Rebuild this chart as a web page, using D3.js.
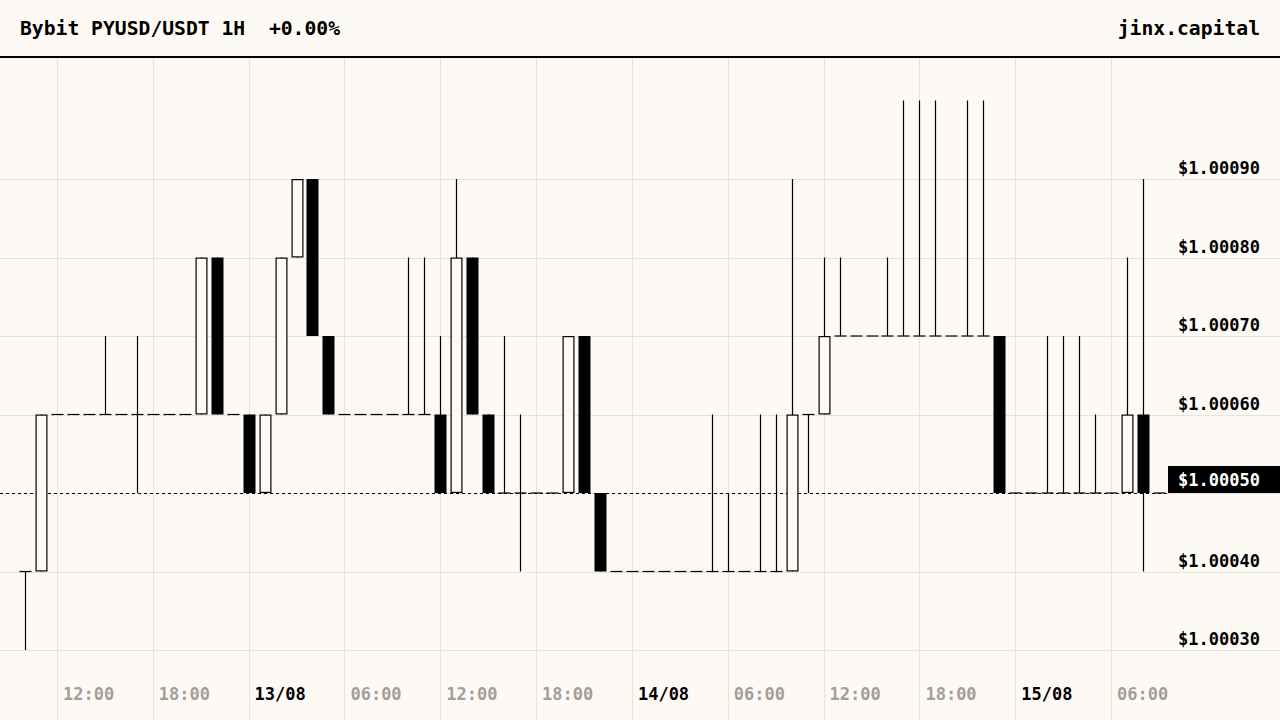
<!DOCTYPE html>
<html>
<head>
<meta charset="utf-8">
<script src="https://cdn.jsdelivr.net/npm/d3@7"></script>
<style>
  html, body { margin: 0; padding: 0; background: #fdfaf5; }
  svg { display: block; font-family: "DejaVu Sans Mono", monospace; font-weight: bold; }
</style>
</head>
<body>
<svg width="1280" height="720"></svg>
<script>
// hourly candles, first one at 12/08 10:00 utc
const startTime = "2024-08-12T10:00:00Z";
const opens  = [1.0004, 1.0004, 1.0006, 1.0006, 1.0006, 1.0006, 1.0006, 1.0006, 1.0006, 1.0006, 1.0006, 1.0006, 1.0008, 1.0006,
  1.0006, 1.0005, 1.0006, 1.0008, 1.0009, 1.0007, 1.0006, 1.0006, 1.0006, 1.0006, 1.0006, 1.0006, 1.0006, 1.0005, 1.0008, 1.0006,
  1.0005, 1.0005, 1.0005, 1.0005, 1.0005, 1.0007, 1.0005, 1.0004,
  1.0004, 1.0004, 1.0004, 1.0004, 1.0004, 1.0004, 1.0004, 1.0004, 1.0004, 1.0004, 1.0004, 1.0006, 1.0006, 1.0007, 1.0007, 1.0007,
  1.0007, 1.0007, 1.0007, 1.0007, 1.0007, 1.0007, 1.0007, 1.0007,
  1.0005, 1.0005, 1.0005, 1.0005, 1.0005, 1.0005, 1.0005, 1.0005, 1.0006, 1.0005];
const highs  = [1.0004, 1.0006, 1.0006, 1.0006, 1.0006, 1.0007, 1.0006, 1.0007, 1.0006, 1.0006, 1.0006, 1.0008, 1.0008, 1.0006,
  1.0006, 1.0006, 1.0008, 1.0009, 1.0009, 1.0007, 1.0006, 1.0006, 1.0006, 1.0006, 1.0008, 1.0008, 1.0007, 1.0009, 1.0008, 1.0006,
  1.0007, 1.0006, 1.0005, 1.0005, 1.0007, 1.0007, 1.0005, 1.0004,
  1.0004, 1.0004, 1.0004, 1.0004, 1.0004, 1.0006, 1.0005, 1.0004, 1.0006, 1.0006, 1.0009, 1.0006, 1.0008, 1.0008, 1.0007, 1.0007,
  1.0008, 1.0010, 1.0010, 1.0010, 1.0007, 1.0010, 1.0010, 1.0007,
  1.0005, 1.0005, 1.0007, 1.0007, 1.0007, 1.0006, 1.0005, 1.0008, 1.0009, 1.0005];
const lows   = [1.0003, 1.0004, 1.0006, 1.0006, 1.0006, 1.0006, 1.0006, 1.0005, 1.0006, 1.0006, 1.0006, 1.0006, 1.0006, 1.0006,
  1.0005, 1.0005, 1.0006, 1.0008, 1.0007, 1.0006, 1.0006, 1.0006, 1.0006, 1.0006, 1.0006, 1.0006, 1.0005, 1.0005, 1.0006, 1.0005,
  1.0005, 1.0004, 1.0005, 1.0005, 1.0005, 1.0005, 1.0004, 1.0004,
  1.0004, 1.0004, 1.0004, 1.0004, 1.0004, 1.0004, 1.0004, 1.0004, 1.0004, 1.0004, 1.0004, 1.0005, 1.0006, 1.0007, 1.0007, 1.0007,
  1.0007, 1.0007, 1.0007, 1.0007, 1.0007, 1.0007, 1.0007, 1.0005,
  1.0005, 1.0005, 1.0005, 1.0005, 1.0005, 1.0005, 1.0005, 1.0005, 1.0004, 1.0005];
const closes = [1.0004, 1.0006, 1.0006, 1.0006, 1.0006, 1.0006, 1.0006, 1.0006, 1.0006, 1.0006, 1.0006, 1.0008, 1.0006, 1.0006,
  1.0005, 1.0006, 1.0008, 1.0009, 1.0007, 1.0006, 1.0006, 1.0006, 1.0006, 1.0006, 1.0006, 1.0006, 1.0005, 1.0008, 1.0006, 1.0005,
  1.0005, 1.0005, 1.0005, 1.0005, 1.0007, 1.0005, 1.0004, 1.0004,
  1.0004, 1.0004, 1.0004, 1.0004, 1.0004, 1.0004, 1.0004, 1.0004, 1.0004, 1.0004, 1.0006, 1.0006, 1.0007, 1.0007, 1.0007, 1.0007,
  1.0007, 1.0007, 1.0007, 1.0007, 1.0007, 1.0007, 1.0007, 1.0005,
  1.0005, 1.0005, 1.0005, 1.0005, 1.0005, 1.0005, 1.0005, 1.0006, 1.0005, 1.0005];

// price ticks on the right
const priceTicks = [1.0003, 1.0004, 1.0005, 1.0006, 1.0007, 1.0008, 1.0009];
const lastPrice = 1.0005;

const title = "Bybit PYUSD/USDT 1H  +0.00%";
const brand = "jinx.capital";

const bg = "#fdfaf5";
const gridColor = "#e6e2dc";

const svg = d3.select("svg");

// build candle rows
const t0 = new Date(startTime);
const candles = opens.map((o, i) => ({
  time: d3.utcHour.offset(t0, i),
  open: o,
  high: highs[i],
  low: lows[i],
  close: closes[i]
}));

// scales
const x = d3
  .scaleUtc()
  .domain([candles[0].time, candles[candles.length - 1].time])
  .range([26, 1160]);

const y = d3.scaleLinear().domain([1.0003, 1.0009]).range([650, 179]);

// grid
const grid = svg.append("g");
const timeTicks = x.ticks(d3.utcHour.every(6));

grid
  .selectAll("line.v")
  .data(timeTicks)
  .enter()
  .append("line")
  .attr("x1", (d) => Math.round(x(d)) - 0.5)
  .attr("x2", (d) => Math.round(x(d)) - 0.5)
  .attr("y1", 58)
  .attr("y2", 720)
  .attr("stroke", gridColor);

grid
  .selectAll("line.h")
  .data(priceTicks)
  .enter()
  .append("line")
  .attr("x1", 0)
  .attr("x2", 1280)
  .attr("y1", (d) => Math.round(y(d)) + 0.5)
  .attr("y2", (d) => Math.round(y(d)) + 0.5)
  .attr("stroke", gridColor);

// last price dashed line
svg
  .append("line")
  .attr("x1", 0)
  .attr("x2", 1168)
  .attr("y1", Math.round(y(lastPrice)) + 0.5)
  .attr("y2", Math.round(y(lastPrice)) + 0.5)
  .attr("stroke", "#000")
  .attr("stroke-dasharray", "3,3");

// candles
const candleGroup = svg.append("g");
const bodyW = 12;

// wicks first so bodies sit on top
candleGroup
  .selectAll("line.wick")
  .data(candles.filter((d) => d.high !== d.low))
  .enter()
  .append("line")
  .attr("x1", (d) => Math.round(x(d.time)) - 0.5)
  .attr("x2", (d) => Math.round(x(d.time)) - 0.5)
  .attr("y1", (d) => y(d.high))
  .attr("y2", (d) => y(d.low))
  .attr("stroke", "#000")
  .attr("stroke-width", 1.2);

// flat candles: a short dash
candleGroup
  .selectAll("line.flat")
  .data(candles.filter((d) => d.open === d.close))
  .enter()
  .append("line")
  .attr("x1", (d) => Math.round(x(d.time)) - bodyW / 2 - 0.5)
  .attr("x2", (d) => Math.round(x(d.time)) + bodyW / 2 - 0.5)
  .attr("y1", (d) => y(d.open))
  .attr("y2", (d) => y(d.open))
  .attr("stroke", "#000")
  .attr("stroke-width", 1.2);

// up candles hollow, down candles filled
candleGroup
  .selectAll("rect")
  .data(candles.filter((d) => d.open !== d.close))
  .enter()
  .append("rect")
  .attr("x", (d) => Math.round(x(d.time)) - bodyW / 2 - 0.5 + (d.close > d.open ? 0.6 : 0))
  .attr("width", (d) => (d.close > d.open ? bodyW - 1.2 : bodyW))
  .attr("y", (d) => y(Math.max(d.open, d.close)) + (d.close > d.open ? 0.6 : 0))
  .attr("height", (d) => Math.abs(y(d.open) - y(d.close)) - (d.close > d.open ? 1.2 : 0))
  .attr("fill", (d) => (d.close > d.open ? bg : "#000"))
  .attr("stroke", (d) => (d.close > d.open ? "#000" : "none"))
  .attr("stroke-width", 1.2);

// price labels
const priceFormat = (v) => "$" + d3.format(".5f")(v);

svg
  .append("g")
  .selectAll("text")
  .data(priceTicks.filter((d) => d !== lastPrice))
  .enter()
  .append("text")
  .attr("x", 1260)
  .attr("y", (d) => y(d) - 5)
  .attr("text-anchor", "end")
  .attr("font-size", 17)
  .attr("fill", "#000")
  .text(priceFormat);

// current price tag
svg
  .append("rect")
  .attr("x", 1168)
  .attr("y", y(lastPrice) - 27)
  .attr("width", 112)
  .attr("height", 27)
  .attr("fill", "#000");

svg
  .append("text")
  .attr("x", 1260)
  .attr("y", y(lastPrice) - 7)
  .attr("text-anchor", "end")
  .attr("font-size", 17)
  .attr("fill", "#fff")
  .text(priceFormat(lastPrice));

// time labels, dates in black
svg
  .append("g")
  .selectAll("text")
  .data(timeTicks)
  .enter()
  .append("text")
  .attr("x", (d) => x(d) + 5)
  .attr("y", 700)
  .attr("font-size", 17)
  .attr("fill", (d) => (d.getUTCHours() === 0 ? "#000" : "#a39e97"))
  .text((d) => (d.getUTCHours() === 0 ? d3.utcFormat("%d/%m")(d) : d3.utcFormat("%H:%M")(d)));

// header
svg
  .append("line")
  .attr("x1", 0)
  .attr("x2", 1280)
  .attr("y1", 57)
  .attr("y2", 57)
  .attr("stroke", "#000")
  .attr("stroke-width", 2);

svg
  .append("text")
  .attr("x", 20)
  .attr("y", 35)
  .attr("font-size", 19.7)
  .attr("fill", "#000")
  .style("white-space", "pre")
  .text(title);

svg
  .append("text")
  .attr("x", 1260)
  .attr("y", 35)
  .attr("text-anchor", "end")
  .attr("font-size", 19.7)
  .attr("fill", "#000")
  .text(brand);
</script>
</body>
</html>
